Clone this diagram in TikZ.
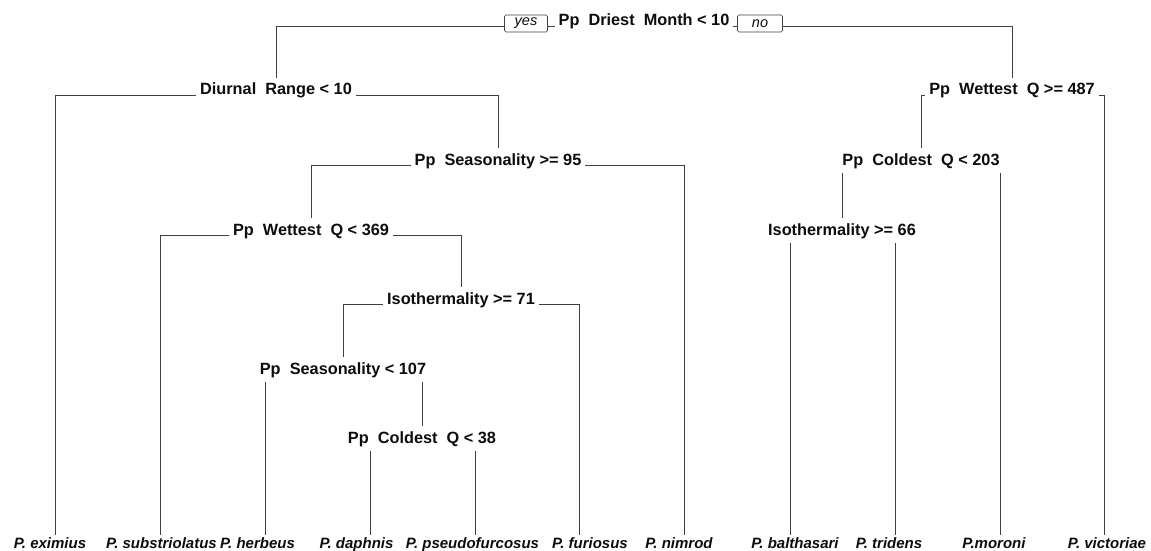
\documentclass[tikz,border=0pt]{standalone}
\usepackage{fontspec}
\setmainfont{Liberation Sans}
\usetikzlibrary{positioning,backgrounds}
\definecolor{treeink}{gray}{0.05}
\definecolor{treeline}{gray}{0.25}
\begin{document}
\begin{tikzpicture}[x=1pt, y=-1pt,
            split/.style={anchor=base, fill=white, text=treeink,
              font=\fontsize{16.3}{19}\selectfont\bfseries,
              inner xsep=4pt, inner ysep=5pt, text height=11.8pt, text depth=3.4pt},
            leaf/.style={anchor=base, text=treeink,
              font=\fontsize{15}{18}\selectfont\bfseries\itshape, inner sep=0pt},
            yesno/.style={draw=treeline, fill=white, rounded corners=1.5pt, text=treeink,
              font=\fontsize{14.5}{16}\selectfont\itshape, line width=0.6pt,
              minimum width=43pt, minimum height=17pt, inner sep=0pt},
            branch/.style={draw=treeline, line width=0.75pt}]
            \useasboundingbox (0,0) rectangle (1151,551);
            % splits
            \node[split] (root) at (644,26) {Pp\ \ Driest\ \ Month < 10};
            \node[split] (diurnal) at (276,95) {Diurnal\ \ Range < 10};
            \node[split] (wet487) at (1012,95) {Pp\ \ Wettest\ \ Q >= 487};
            \node[split] (seas95) at (498,165) {Pp\ \ Seasonality >= 95};
            \node[split] (cold203) at (921,165) {Pp\ \ Coldest\ \ Q < 203};
            \node[split] (wet369) at (311,235) {Pp\ \ Wettest\ \ Q < 369};
            \node[split] (iso66) at (842,235) {Isothermality >= 66};
            \node[split] (iso71) at (461,304) {Isothermality >= 71};
            \node[split] (seas107) at (343,374) {Pp\ \ Seasonality < 107};
            \node[split] (cold38) at (422,443) {Pp\ \ Coldest\ \ Q < 38};
            \node[yesno] (yes) at (526,23.5) {yes};
            \node[yesno, minimum width=45pt] (no) at (760,23.5) {no};
            % leaves
            \node[leaf] (eximius) at (50,548) {P. eximius};
            \node[leaf] (substriolatus) at (161.5,548) {P. substriolatus};
            \node[leaf] (herbeus) at (257.5,548) {P. herbeus};
            \node[leaf] (daphnis) at (356.5,548) {P. daphnis};
            \node[leaf] (pseudofurcosus) at (472.5,548) {P. pseudofurcosus};
            \node[leaf] (furiosus) at (590,548) {P. furiosus};
            \node[leaf] (nimrod) at (679,548) {P. nimrod};
            \node[leaf] (balthasari) at (795,548) {P. balthasari};
            \node[leaf] (tridens) at (889,548) {P. tridens};
            \node[leaf] (moroni) at (994,548) {P.moroni};
            \node[leaf] (victoriae) at (1107,548) {P. victoriae};
            % line ends above the leaf labels
            \coordinate (t-eximius) at (55,535);
            \coordinate (t-substriolatus) at (160,535);
            \coordinate (t-herbeus) at (265,535);
            \coordinate (t-daphnis) at (370,535);
            \coordinate (t-pseudofurcosus) at (475,535);
            \coordinate (t-furiosus) at (579,535);
            \coordinate (t-nimrod) at (684,535);
            \coordinate (t-balthasari) at (790,535);
            \coordinate (t-tridens) at (895,535);
            \coordinate (t-moroni) at (1000,535);
            \coordinate (t-victoriae) at (1104,535);
            \begin{scope}[on background layer]
              \draw[branch] (root.base) -| (diurnal.north);
              \draw[branch] (root.base) -| (wet487.north);
              \draw[branch] (diurnal.base) -| (t-eximius);
              \draw[branch] (diurnal.base) -| (seas95.north);
              \draw[branch] (seas95.base) -| (wet369.north);
              \draw[branch] (seas95.base) -| (t-nimrod);
              \draw[branch] (wet369.base) -| (t-substriolatus);
              \draw[branch] (wet369.base) -| (iso71.north);
              \draw[branch] (iso71.base) -| (seas107.north);
              \draw[branch] (iso71.base) -| (t-furiosus);
              \draw[branch] (seas107.base) -| (t-herbeus);
              \draw[branch] (seas107.base) -| (cold38.north);
              \draw[branch] (cold38.base) -| (t-daphnis);
              \draw[branch] (cold38.base) -| (t-pseudofurcosus);
              \draw[branch] (wet487.base) -| (cold203.north);
              \draw[branch] (wet487.base) -| (t-victoriae);
              \draw[branch] (cold203.base) -| (iso66.north);
              \draw[branch] (cold203.base) -| (t-moroni);
              \draw[branch] (iso66.base) -| (t-balthasari);
              \draw[branch] (iso66.base) -| (t-tridens);
            \end{scope}
        \end{tikzpicture}
\end{document}
